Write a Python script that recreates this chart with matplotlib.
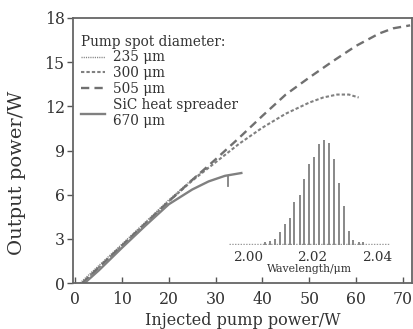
import matplotlib
matplotlib.use("Agg")
import matplotlib.pyplot as plt

# ---------------- data ----------------
p235 = [1.0, 10, 20, 25, 28.5]
o235 = [0, 2.65, 5.65, 7.05, 7.9]

p300 = [1.5, 10, 20, 25, 30, 35, 40, 45, 50, 53, 56, 58.5, 60.6]
o300 = [0, 2.55, 5.55, 6.95, 8.2, 9.45, 10.55, 11.5, 12.25, 12.6, 12.8, 12.8, 12.6]

p505 = [1.5, 10, 20, 25, 30, 35, 40, 45, 50, 55, 60, 65, 68, 71.6]
o505 = [0, 2.55, 5.55, 7.0, 8.4, 9.85, 11.35, 12.8, 13.95, 15.05, 16.1, 16.95, 17.3, 17.5]

psic = [2, 5, 10, 15, 20, 25, 28.5, 32, 35.5]
osic = [0, 0.85, 2.4, 3.9, 5.35, 6.35, 6.9, 7.28, 7.47]
sic_mark_p = [32.7, 32.7]
sic_mark_o = [7.25, 6.6]

wl = [2.0053, 2.0068, 2.0083, 2.0099, 2.0114, 2.0129, 2.0144, 2.0160, 2.0175,
      2.0190, 2.0205, 2.0221, 2.0236, 2.0251, 2.0266, 2.0282, 2.0297, 2.0312,
      2.0327, 2.0343, 2.0358]
inten = [0.03, 0.04, 0.06, 0.12, 0.20, 0.26, 0.41, 0.48, 0.63, 0.77, 0.84,
         0.96, 1.00, 0.97, 0.82, 0.59, 0.37, 0.13, 0.05, 0.03, 0.03]

xticks = [0, 10, 20, 30, 40, 50, 60, 70]
yticks = [0, 3, 6, 9, 12, 15, 18]
wl_ticks = [2.00, 2.02, 2.04]

labels = ["235 \u03bcm", "300 \u03bcm", "505 \u03bcm", "SiC heat spreader\n670 \u03bcm"]

# ---------------- style ----------------
plt.rcParams["font.family"] = ["DejaVu Serif"]
W, H = 414, 329
fig = plt.figure(figsize=(W / 100, H / 100), dpi=100)
ax = fig.add_axes([73 / W, 1 - 283 / H, (412 - 73) / W, (283 - 18) / H])

lc = "#808080"
tc = "#333333"
l1, = ax.plot(p235, o235, color=lc, lw=1.0, linestyle=(0, (0.8, 0.8)))
l2, = ax.plot(p300, o300, color=lc, lw=1.5, linestyle=(0, (1.6, 1.0)))
l3, = ax.plot(p505, o505, color="#707070", lw=1.7, linestyle=(0, (3.5, 2.2)))
l4, = ax.plot(psic, osic, color=lc, lw=1.7, linestyle="-")
ax.plot(sic_mark_p, sic_mark_o, color=lc, lw=1.3)

ax.set_xlim(-0.5, 72)
ax.set_ylim(0, 18)
ax.set_xticks(xticks)
ax.set_yticks(yticks)
ax.tick_params(axis="x", direction="in", length=4, width=1, colors="#555555",
               labelcolor=tc, labelsize=11.3, pad=6)
ax.tick_params(axis="y", direction="out", length=4, width=1, colors="#555555",
               labelcolor=tc, labelsize=11.3, pad=2)
for s in ax.spines.values():
    s.set_color("#666666")
    s.set_linewidth(1.3)

ax.set_xlabel("Injected pump power/W", fontsize=11.5, color=tc)
ax.set_ylabel("Output power/W", fontsize=14, color=tc)
ax.xaxis.set_label_coords(0.5, -0.108)
ax.yaxis.set_label_coords(-0.14, 0.415)

leg = ax.legend([l1, l2, l3, l4], labels, title="Pump spot diameter:",
                loc="upper left", bbox_to_anchor=(0.025, 0.937),
                frameon=False, fontsize=9.8, title_fontsize=9.8,
                handlelength=1.7, handletextpad=0.65, labelspacing=0.13,
                borderpad=0.0, borderaxespad=0.0)
leg._legend_box.align = "left"
for t in leg.get_texts():
    t.set_color(tc)
leg.get_title().set_color(tc)

# ---------------- inset spectrum ----------------
ix0, ix1 = 1.994, 2.044
px0 = 248 - (2.00 - ix0) * 3225
px1 = 248 + (ix1 - 2.00) * 3225
iax = fig.add_axes([px0 / W, 1 - 245 / H, (px1 - px0) / W, (245 - 138) / H])
iax.set_xlim(ix0, ix1)
iax.set_ylim(0, 1.02)
iax.axhline(0.01, color="#999999", lw=1.0, linestyle=(0, (1, 1)))
iax.vlines(wl, 0, inten, color="#888888", lw=1.4)
iax.patch.set_alpha(0)
for s in iax.spines.values():
    s.set_visible(False)
iax.set_yticks([])
iax.set_xticks(wl_ticks)
iax.set_xticklabels(["%.2f" % v for v in wl_ticks])
iax.tick_params(axis="x", length=0, pad=4, labelsize=9.7, labelcolor=tc)
iax.set_xlabel("Wavelength/\u03bcm", fontsize=7.8, color=tc, labelpad=0)

fig.savefig("out.png", dpi=100)
